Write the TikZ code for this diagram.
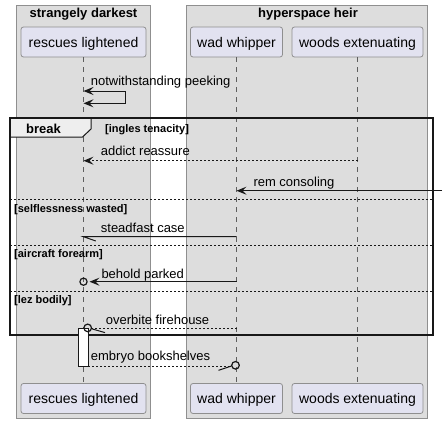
\documentclass[tikz,border=0pt]{standalone}
\usepackage{fontspec}
\setmainfont{Liberation Sans}
\usetikzlibrary{arrows.meta}
\definecolor{grpfill}{HTML}{DDDDDD}
\definecolor{grpline}{HTML}{8F8F8F}
\definecolor{partfill}{HTML}{E2E2F0}
\definecolor{partline}{HTML}{8F8F8F}
\definecolor{lifecol}{HTML}{5E5E5E}
\definecolor{tabfill}{HTML}{EEEEEE}
\definecolor{ink}{HTML}{181818}
\begin{document}
\begin{tikzpicture}[x=1pt,y=-1pt,
  >={Stealth[length=10pt,width=8pt,inset=4pt]},
  grpbox/.style={fill=grpfill,draw=grpline,line width=0.8pt},
  partbox/.style={fill=partfill,draw=partline,line width=0.8pt,rounded corners=2.5pt,
    minimum height=30pt,inner sep=0pt,text height=10pt,text depth=0pt,
    font=\fontsize{14}{16}\selectfont},
  grptitle/.style={font=\bfseries\fontsize{13}{15}\selectfont,anchor=base,inner sep=0pt},
  lifeline/.style={draw=lifecol,line width=0.8pt,dash pattern=on 5pt off 5pt},
  msg/.style={draw=ink,line width=1pt},
  rmsg/.style={msg,dash pattern=on 2pt off 2pt},
  msgtext/.style={font=\fontsize{13}{15}\selectfont,anchor=base west,inner sep=0pt},
  guard/.style={font=\bfseries\fontsize{11}{13}\selectfont,anchor=base west,inner sep=0pt},
  sepline/.style={draw=ink,line width=1pt,dash pattern=on 2pt off 2pt},
  endcircle/.style={draw=ink,line width=1.2pt}
]
\useasboundingbox (0,0) rectangle (448,424);

% groups
\draw[grpbox] (16,5) rectangle (150,418);
\draw[grpbox] (186,5) rectangle (427,418);
\node[grptitle] (g1) at (83.5,17.5) {strangely darkest};
\node[grptitle] (g2) at (308,17.5) {hyperspace heir};

% participants
\node[partbox,minimum width=125pt] (rlT) at (83.5,42) {rescues lightened};
\node[partbox,minimum width=92pt] (wwT) at (236.5,42) {wad whipper};
\node[partbox,minimum width=131pt] (weT) at (357.5,42) {woods extenuating};
\node[partbox,minimum width=125pt] (rlB) at (83.5,398.5) {rescues lightened};
\node[partbox,minimum width=92pt] (wwB) at (236.5,398.5) {wad whipper};
\node[partbox,minimum width=131pt] (weB) at (357.5,398.5) {woods extenuating};

% lifelines
\draw[lifeline] (rlT.south) -- (rlB.north);
\draw[lifeline] (wwT.south) -- (wwB.north);
\draw[lifeline] (weT.south) -- (weB.north);

% self message
\coordinate (s1) at (83.5,91);
\coordinate (s2) at (125,91);
\coordinate (s3) at (125,103.3);
\coordinate (s4) at (83.5,103.3);
\draw[msg,<->] (s1) -- (s2) -- (s3) -- (s4);
\node[msgtext] (t1) at (90.7,85) {notwithstanding peeking};

% break frame
\draw[fill=tabfill,draw=ink,line width=1pt] (10,118) -- (91,118) -- (91,129) -- (82.5,137) -- (10,137) -- cycle;
\draw[draw=ink,line width=1.6pt] (10,118) rectangle (433,335);
\node[font=\bfseries\fontsize{13}{15}\selectfont,anchor=base,inner sep=0pt] (brk) at (43.5,133.3) {break};
\node[guard] (gd1) at (105,132.5) {[ingles tenacity]};

% addict reassure
\coordinate (a1) at (357.5,160.7);
\coordinate (a2) at (83.5,160.7);
\draw[rmsg,->] (a1) -- (a2);
\node[msgtext] (t2) at (100.7,155.7) {addict reassure};

% rem consoling
\coordinate (r1) at (442,190.7);
\coordinate (r2) at (236.5,190.7);
\draw[msg,->] (r1) -- (r2);
\node[msgtext] (t3) at (253.3,186.7) {rem consoling};

% separator 1
\coordinate (p1a) at (10,199.3);
\coordinate (p1b) at (433,199.3);
\draw[sepline] (p1a) -- (p1b);
\node[guard] (gd2) at (14,212.2) {[selflessness wasted]};

% steadfast case
\coordinate (c1) at (236.5,236.7);
\coordinate (c2) at (83.5,236.7);
\draw[msg] (c1) -- (c2) -- ++(12.3,4.3);
\node[msgtext] (t4) at (100.7,232.3) {steadfast case};

% separator 2
\coordinate (p2a) at (10,245.3);
\coordinate (p2b) at (433,245.3);
\draw[sepline] (p2a) -- (p2b);
\node[guard] (gd3) at (14,257.2) {[aircraft forearm]};

% behold parked
\coordinate (b1) at (236.5,281.7);
\coordinate (b2) at (89.5,281.7);
\coordinate (bc) at (83.5,281.7);
\draw[msg,->] (b1) -- (b2);
\draw[endcircle] (bc) circle (3.6);
\node[msgtext] (t5) at (101.3,278.3) {behold parked};

% separator 3
\coordinate (p3a) at (10,291.3);
\coordinate (p3b) at (433,291.3);
\draw[sepline] (p3a) -- (p3b);
\node[guard] (gd4) at (14,303.5) {[lez bodily]};

% overbite firehouse
\coordinate (o1) at (236.5,328.8);
\coordinate (o2) at (91.7,328.8);
\draw[rmsg] (o1) -- (o2);
\node[msgtext] (t6) at (105.7,324) {overbite firehouse};

% activation bar
\draw[fill=white,draw=ink,line width=1pt] (78,328.3) rectangle (88,366);

% overbite end decorations
\coordinate (oc) at (87.7,327.9);
\draw[endcircle] (oc) circle (3.8);
\draw[msg] (o2) -- ++(13.3,3.8);

% embryo bookshelves
\coordinate (e1) at (88,366);
\coordinate (e2) at (231.5,366);
\coordinate (ec) at (235.5,365.3);
\draw[rmsg] (e1) -- (e2);
\draw[msg] (e2) -- ++(-13,4.3);
\draw[endcircle] (ec) circle (3.8);
\node[msgtext] (t7) at (90.7,360) {embryo bookshelves};
\end{tikzpicture}
\end{document}
